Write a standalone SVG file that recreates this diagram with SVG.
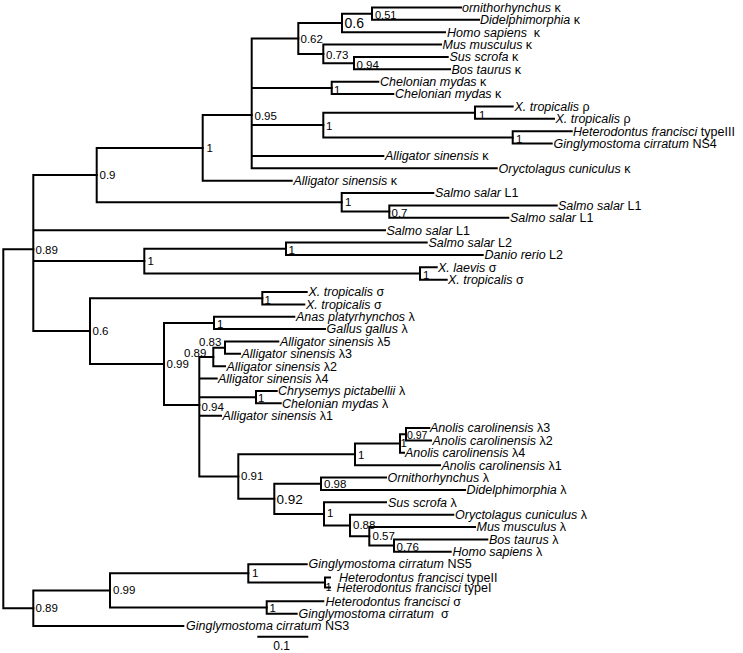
<svg xmlns="http://www.w3.org/2000/svg" width="743" height="653" viewBox="0 0 743 653">
<style>
.e{fill:none;stroke:#000;stroke-width:2;stroke-linecap:square;stroke-linejoin:miter}
text{font-family:"Liberation Sans",Arial,sans-serif;fill:#000;white-space:pre}
.l{font-size:12.5px}
.l tspan.i{font-style:italic}
.b{font-size:11.5px}
</style>
<rect width="743" height="653" fill="#fff"/>
<g id="connectors" class="e">
<path d="M33.3 249.36H3.3V608.2H33.3"/>
<path d="M96.7 175.11H33.3V331.09H90M33.3 230.16H385M33.3 261.09H144.3"/>
<path d="M202.7 147.9H96.7V202.33H341.7"/>
<path d="M251.7 115.12H202.7V180.68H291.7"/>
<path d="M298.3 38.43H251.7V168.31H496.7M251.7 87.9H331.7M251.7 125.02H323.3M251.7 155.94H383.3"/>
<path d="M342 22.96H298.3V53.89H323.3"/>
<path d="M372 13.69H342V32.24H445"/>
<path d="M461 7.5H372V19.87H479"/>
<path d="M441 44.61H323.3V63.17H354"/>
<path d="M447.7 56.98H354V69.35H450"/>
<path d="M378.3 81.72H331.7V94.09H393.3"/>
<path d="M475 112.65H323.3V137.39H512.7"/>
<path d="M512.7 106.46H475V118.83H554"/>
<path d="M571.7 131.2H512.7V143.57H551.7"/>
<path d="M433.3 193.05H341.7V211.6H389.3"/>
<path d="M556.7 205.42H389.3V217.79H508.3"/>
<path d="M286 248.72H144.3V273.46H420"/>
<path d="M426.7 242.53H286V254.9H482.7"/>
<path d="M436.7 267.27H420V279.64H446.7"/>
<path d="M262.3 298.2H90V363.97H164"/>
<path d="M306.7 292.01H262.3V304.38H304.3"/>
<path d="M214 322.94H164V405H199.3"/>
<path d="M294.3 316.75H214V329.12H325"/>
<path d="M213.3 356.95H199.3V476.6H238.3M199.3 378.6H216.7M199.3 397.16H256M199.3 415.71H221"/>
<path d="M225 347.68H213.3V366.23H225"/>
<path d="M278.3 341.49H225V353.86H240"/>
<path d="M276.7 390.97H256V403.34H280.7"/>
<path d="M355 454.37H238.3V498.83H274.3"/>
<path d="M400 443.55H355V465.19H440"/>
<path d="M406 434.27H400V452.82H404"/>
<path d="M429.3 428.08H406V440.45H431"/>
<path d="M321 483.75H274.3V513.9H324"/>
<path d="M386 477.56H321V489.93H465"/>
<path d="M386 502.3H324V525.5H350"/>
<path d="M453.3 514.67H350V536.32H369.3"/>
<path d="M475 527.04H369.3V545.6H394"/>
<path d="M487.3 539.41H394V551.78H450.7"/>
<path d="M110 590.39H33.3V626H183.3"/>
<path d="M248.3 573.33H110V607.45H266.7"/>
<path d="M306.7 564.15H248.3V582.5H325"/>
<path d="M330 577.5H325V587.5H330"/>
<path d="M323.3 601.26H266.7V613.63H296.7"/>
</g>
<g id="scale-bar">
<path class="e" d="M258.3 636.7H307.3"/>
<text x="281.7" y="650" font-size="12" text-anchor="middle">0.1</text>
</g>
<g id="leaves" class="l">
<g id="leaf1"><text x="462" y="11.8"><tspan class="i">ornithorhynchus</tspan> κ</text></g>
<g id="leaf2"><text x="480" y="24.2"><tspan class="i">Didelphimorphia</tspan> κ</text></g>
<g id="leaf3"><text x="447" y="36.5"><tspan class="i">Homo sapiens</tspan>  κ</text></g>
<g id="leaf4"><text x="442.5" y="48.9"><tspan class="i">Mus musculus</tspan> κ</text></g>
<g id="leaf5"><text x="449.5" y="61.3"><tspan class="i">Sus scrofa</tspan> κ</text></g>
<g id="leaf6"><text x="451.5" y="73.7"><tspan class="i">Bos taurus</tspan> κ</text></g>
<g id="leaf7"><text x="380" y="86"><tspan class="i">Chelonian mydas</tspan> κ</text></g>
<g id="leaf8"><text x="395" y="98.4"><tspan class="i">Chelonian mydas</tspan> κ</text></g>
<g id="leaf9"><text x="514.5" y="110.8"><tspan class="i">X. tropicalis</tspan> ρ</text></g>
<g id="leaf10"><text x="555.5" y="123.1"><tspan class="i">X. tropicalis</tspan> ρ</text></g>
<g id="leaf11"><text x="573" y="135.5"><tspan class="i">Heterodontus francisci</tspan> typeIII</text></g>
<g id="leaf12"><text x="553.5" y="147.9"><tspan class="i">Ginglymostoma cirratum</tspan> NS4</text></g>
<g id="leaf13"><text x="385" y="160.2"><tspan class="i">Alligator sinensis</tspan> κ</text></g>
<g id="leaf14"><text x="498.5" y="172.6"><tspan class="i">Oryctolagus cuniculus</tspan> κ</text></g>
<g id="leaf15"><text x="293.5" y="185"><tspan class="i">Alligator sinensis</tspan> κ</text></g>
<g id="leaf16"><text x="435" y="197.4"><tspan class="i">Salmo salar</tspan> L1</text></g>
<g id="leaf17"><text x="558" y="209.7"><tspan class="i">Salmo salar</tspan> L1</text></g>
<g id="leaf18"><text x="510" y="222.1"><tspan class="i">Salmo salar</tspan> L1</text></g>
<g id="leaf19"><text x="386.5" y="234.5"><tspan class="i">Salmo salar</tspan> L1</text></g>
<g id="leaf20"><text x="428.5" y="246.8"><tspan class="i">Salmo salar</tspan> L2</text></g>
<g id="leaf21"><text x="484.5" y="259.2"><tspan class="i">Danio rerio</tspan> L2</text></g>
<g id="leaf22"><text x="438" y="271.6"><tspan class="i">X. laevis</tspan> σ</text></g>
<g id="leaf23"><text x="448" y="283.9"><tspan class="i">X. tropicalis</tspan> σ</text></g>
<g id="leaf24"><text x="308.5" y="296.3"><tspan class="i">X. tropicalis</tspan> σ</text></g>
<g id="leaf25"><text x="306" y="308.7"><tspan class="i">X. tropicalis</tspan> σ</text></g>
<g id="leaf26"><text x="296" y="321.1"><tspan class="i">Anas platyrhynchos</tspan> λ</text></g>
<g id="leaf27"><text x="326.5" y="333.4"><tspan class="i">Gallus gallus</tspan> λ</text></g>
<g id="leaf28"><text x="280" y="345.8"><tspan class="i">Alligator sinensis</tspan> λ5</text></g>
<g id="leaf29"><text x="241.5" y="358.2"><tspan class="i">Alligator sinensis</tspan> λ3</text></g>
<g id="leaf30"><text x="226.5" y="370.5"><tspan class="i">Alligator sinensis</tspan> λ2</text></g>
<g id="leaf31"><text x="218" y="382.9"><tspan class="i">Alligator sinensis</tspan> λ4</text></g>
<g id="leaf32"><text x="278" y="395.3"><tspan class="i">Chrysemys pictabellii</tspan> λ</text></g>
<g id="leaf33"><text x="282" y="407.6"><tspan class="i">Chelonian mydas</tspan> λ</text></g>
<g id="leaf34"><text x="222.5" y="420"><tspan class="i">Alligator sinensis</tspan> λ1</text></g>
<g id="leaf35"><text x="430" y="432.4"><tspan class="i">Anolis carolinensis</tspan> λ3</text></g>
<g id="leaf36"><text x="432.5" y="444.8"><tspan class="i">Anolis carolinensis</tspan> λ2</text></g>
<g id="leaf37"><text x="405" y="457.1"><tspan class="i">Anolis carolinensis</tspan> λ4</text></g>
<g id="leaf38"><text x="441.5" y="469.5"><tspan class="i">Anolis carolinensis</tspan> λ1</text></g>
<g id="leaf39"><text x="387.5" y="481.9"><tspan class="i">Ornithorhynchus</tspan> λ</text></g>
<g id="leaf40"><text x="466.5" y="494.2"><tspan class="i">Didelphimorphia</tspan> λ</text></g>
<g id="leaf41"><text x="388" y="506.6"><tspan class="i">Sus scrofa</tspan> λ</text></g>
<g id="leaf42"><text x="455" y="519"><tspan class="i">Oryctolagus cuniculus</tspan> λ</text></g>
<g id="leaf43"><text x="476.5" y="531.3"><tspan class="i">Mus musculus</tspan> λ</text></g>
<g id="leaf44"><text x="489" y="543.7"><tspan class="i">Bos taurus</tspan> λ</text></g>
<g id="leaf45"><text x="452.5" y="556.1"><tspan class="i">Homo sapiens</tspan> λ</text></g>
<g id="leaf46"><text x="308.5" y="568.4"><tspan class="i">Ginglymostoma cirratum</tspan> NS5</text></g>
<g id="leaf47"><text x="339" y="581.8"><tspan class="i">Heterodontus francisci</tspan> typeII</text></g>
<g id="leaf48"><text x="336.5" y="591.8"><tspan class="i">Heterodontus francisci</tspan> typeI</text></g>
<g id="leaf49"><text x="325.5" y="605.6"><tspan class="i">Heterodontus francisci</tspan> σ</text></g>
<g id="leaf50"><text x="298.5" y="617.9"><tspan class="i">Ginglymostoma cirratum</tspan>  σ</text></g>
<g id="leaf51"><text x="186" y="630.3"><tspan class="i">Ginglymostoma cirratum</tspan> NS3</text></g>
</g>
<g id="support" class="b">
<g id="n051"><text x="375" y="19.3" font-size="11">0.51</text></g>
<g id="n06a"><text x="344.5" y="27.5" font-size="14">0.6</text></g>
<g id="n062"><text x="300.5" y="42.5">0.62</text></g>
<g id="n073"><text x="326" y="58.5">0.73</text></g>
<g id="n094k"><text x="356.5" y="68.5">0.94</text></g>
<g id="nChel"><text x="334" y="93.5">1</text></g>
<g id="n095"><text x="254.5" y="119.5">0.95</text></g>
<g id="nXHG"><text x="326" y="129.5">1</text></g>
<g id="nXr"><text x="479" y="118.5">1</text></g>
<g id="nHG"><text x="516" y="143">1</text></g>
<g id="n1a"><text x="206.5" y="152">1</text></g>
<g id="n09"><text x="99.5" y="179">0.9</text></g>
<g id="n089a"><text x="35.5" y="253.5">0.89</text></g>
<g id="nSal1"><text x="345" y="205.5">1</text></g>
<g id="nSal07"><text x="391.5" y="216.5">0.7</text></g>
<g id="n1b"><text x="147.5" y="265">1</text></g>
<g id="nSD"><text x="288.5" y="254">1</text></g>
<g id="nXs"><text x="423" y="278.5">1</text></g>
<g id="n06b"><text x="92.5" y="335">0.6</text></g>
<g id="nXs2"><text x="264.5" y="303.5">1</text></g>
<g id="n099a"><text x="166.5" y="368.3">0.99</text></g>
<g id="nAG"><text x="217" y="328">1</text></g>
<g id="n083"><text x="199" y="345.7">0.83</text></g>
<g id="n089b"><text x="184" y="356.7">0.89</text></g>
<g id="n094"><text x="201.5" y="410.5">0.94</text></g>
<g id="nCC"><text x="258" y="402">1</text></g>
<g id="n091"><text x="241" y="480">0.91</text></g>
<g id="nAn"><text x="358" y="459">1</text></g>
<g id="nAn1"><text x="400.5" y="446.7">1</text></g>
<g id="n097"><text x="407" y="439.3" font-size="10.5">0.97</text></g>
<g id="n092"><text x="276.5" y="503.5" font-size="13.5">0.92</text></g>
<g id="n098"><text x="324" y="488">0.98</text></g>
<g id="n1c"><text x="327" y="517">1</text></g>
<g id="n088"><text x="353" y="528.5">0.88</text></g>
<g id="n057"><text x="372.5" y="540">0.57</text></g>
<g id="n076"><text x="396.5" y="550.7">0.76</text></g>
<g id="n089c"><text x="35.5" y="611.7">0.89</text></g>
<g id="n099b"><text x="113" y="594">0.99</text></g>
<g id="n1d"><text x="252" y="576.5">1</text></g>
<g id="nHt"><text x="325.5" y="590.5" font-size="11">1</text></g>
<g id="n1e"><text x="269.5" y="611.7">1</text></g>
</g>
</svg>
